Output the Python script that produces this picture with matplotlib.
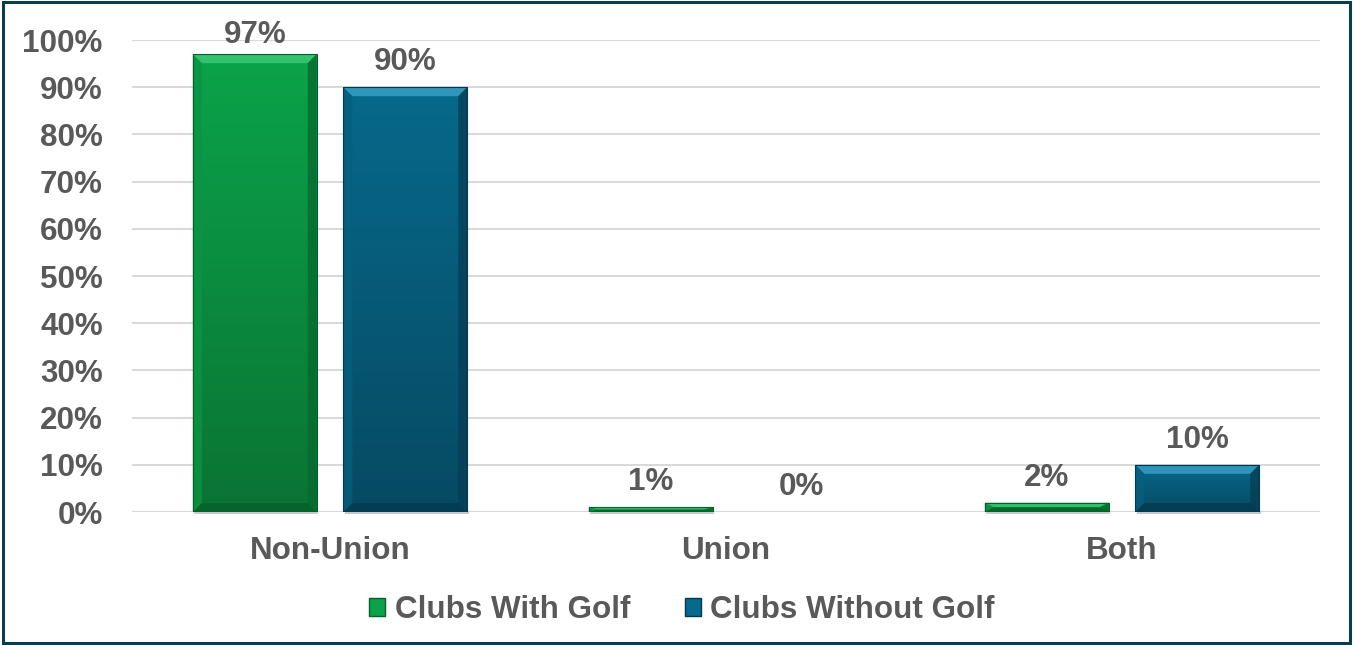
import numpy as np
import matplotlib
matplotlib.use("Agg")
import matplotlib.pyplot as plt
from matplotlib.patches import Polygon, Rectangle
from matplotlib.colors import LinearSegmentedColormap

categories = ["Non-Union", "Union", "Both"]
series_names = ["Clubs With Golf", "Clubs Without Golf"]
with_golf = [97, 1, 2]
without_golf = [90, 0, 10]
yticks = list(range(0, 101, 10))

plt.rcParams['font.family'] = ['Liberation Sans', 'DejaVu Sans']
TXT = "#595959"
FS = 22.6

fig = plt.figure(figsize=(13.53, 6.45), dpi=100)
ax = fig.add_axes([132/1353, 1-512/645, (1320-132)/1353, (512-40)/645])
ax.set_xlim(-0.5, 2.5)
ax.set_ylim(0, 100)

styles = [
    dict(top="#0aa34a", bot="#0a7434", btop="#3fca78", bleft="#0b9443", bright="#076a30", bbot="#075f2b", edge="#065e2a"),
    dict(top="#07698b", bot="#064a63", btop="#3aa2c8", bleft="#075f7e", bright="#053f55", bbot="#043a4f", edge="#04394d"),
]

x = np.arange(len(categories))
width = 0.313
offset = 0.19
series = [with_golf, without_golf]

fig.canvas.draw()
px_x = (ax.transData.transform((1, 0))[0] - ax.transData.transform((0, 0))[0])
px_y = (ax.transData.transform((0, 1))[1] - ax.transData.transform((0, 0))[1])
fig_h = fig.get_figheight() * fig.dpi

for si, vals in enumerate(series):
    st = styles[si]
    xs = x + (-offset if si == 0 else offset)
    bars = ax.bar(xs, vals, width=width, color=st["top"], edgecolor="none", zorder=3)
    cmap = LinearSegmentedColormap.from_list("g", [st["bot"], st["top"]])
    for b, v in zip(bars, vals):
        x0, w, h = b.get_x(), b.get_width(), b.get_height()
        if h > 0:
            ax.add_patch(Rectangle((x0 + 0.004, -0.35), w, 0.35 + min(h, 0.3), facecolor="#c8c8c8",
                                   edgecolor="none", zorder=2, clip_on=False))
            grad = np.linspace(0, 1, 100).reshape(-1, 1)
            im = ax.imshow(grad, extent=(x0, x0 + w, 0, h), origin="lower", cmap=cmap,
                           aspect="auto", zorder=3.5)
            im.set_clip_path(b)
            bx = min(9 / px_x, w / 2)
            by = min(9 / px_y, h / 2)
            L, R, B, T = x0, x0 + w, 0, h
            polys = [
                ([(L, T), (R, T), (R - bx, T - by), (L + bx, T - by)], st["btop"]),
                ([(L, B), (L, T), (L + bx, T - by), (L + bx, B + by)], st["bleft"]),
                ([(R, B), (R, T), (R - bx, T - by), (R - bx, B + by)], st["bright"]),
                ([(L, B), (R, B), (R - bx, B + by), (L + bx, B + by)], st["bbot"]),
            ]
            for pts, c in polys:
                ax.add_patch(Polygon(pts, closed=True, facecolor=c, edgecolor="none",
                                     alpha=0.8, zorder=4))
            ax.add_patch(Rectangle((L, B), w, h, facecolor="none", edgecolor=st["edge"],
                                   linewidth=0.8, zorder=4.5))
        top_px = ax.transData.transform((0, v))[1]
        off = min(10, fig_h - 50 - top_px)
        ax.annotate(f"{v}%", (b.get_x() + w / 2, v), xytext=(0, off), textcoords="offset pixels",
                    ha="center", va="bottom", fontsize=FS, fontweight="bold", color=TXT,
                    zorder=6, annotation_clip=False)

ax.set_yticks(yticks)
ax.set_yticklabels([f"{t}%" for t in yticks])
ax.set_xticks(x)
ax.set_xticklabels(categories)
ax.tick_params(axis="y", length=0, pad=21, labelsize=FS, labelcolor=TXT)
ax.tick_params(axis="x", length=0, pad=17, labelsize=FS, labelcolor=TXT)
for lab in ax.get_xticklabels() + ax.get_yticklabels():
    lab.set_fontweight("bold")
for s in ax.spines.values():
    s.set_visible(False)
ax.yaxis.grid(True, color="#d9d9d9", linewidth=1.5, zorder=0)
ax.set_axisbelow(True)

handles = [Rectangle((0, 0), 1, 1, facecolor=styles[i]["top"], edgecolor=styles[i]["edge"], linewidth=1)
           for i in range(2)]
leg = fig.legend(handles, series_names, loc="center", bbox_to_anchor=(682/1353, 1-610/645),
                 ncol=2, frameon=False, handlelength=0.5, handleheight=0.5, handletextpad=0.3,
                 columnspacing=1.75, borderpad=0, prop=dict(size=FS, weight="bold"))
for t in leg.get_texts():
    t.set_color(TXT)

fig.patches.append(Rectangle((0.002, 0.003), 0.996, 0.994, transform=fig.transFigure,
                             fill=False, edgecolor="#0b3d4e", linewidth=2.2))

fig.savefig("out.png", dpi=100)
